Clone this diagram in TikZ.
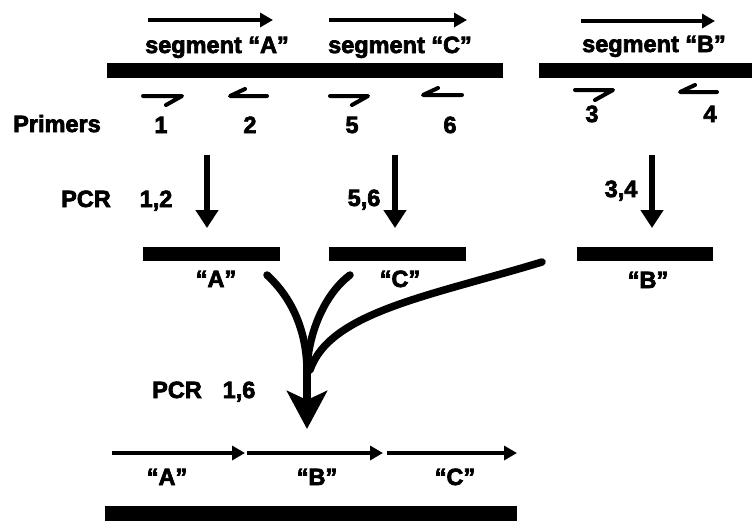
\documentclass[tikz,border=0pt]{standalone}
\usepackage{fontspec}
\newfontfamily\heavyfont{Liberation Sans Bold}[FakeBold=3]
\usetikzlibrary{arrows.meta}

\tikzset{
  bar/.style={rectangle, fill=black, inner sep=0pt, minimum height=15pt},
  lab/.style={font=\heavyfont\fontsize{23.5}{27}\selectfont, inner sep=0pt, anchor=base},
  strand/.style={line width=4.2pt, -{Triangle[length=13pt,width=14pt]}},
  primer/.style={line width=4pt, line cap=round, line join=round},
  pcrarrow/.style={line width=6.5pt, -{Triangle[length=18pt,width=22pt]}},
  merge/.style={line width=7.5pt}
}

\begin{document}
\begin{tikzpicture}[x=1pt,y=-1pt]
\useasboundingbox (0,0) rectangle (752,520);

% Template strands
\node[bar, minimum width=396pt] (tmplAC) at (305,70.5) {};
\node[bar, minimum width=213pt] (tmplB) at (645.5,70.5) {};

% Segment arrows and names
\draw[strand] (148,20) -- (273,20);
\draw[strand] (329,20) -- (467,20);
\draw[strand] (581,21) -- (715,21);
\node[lab] (segA) at (217,53) {segment “A”};
\node[lab] (segC) at (400,53) {segment “C”};
\node[lab] (segB) at (654,52) {segment “B”};

% Primers (half arrows)
\draw[primer] (143,96) -- ++(39,0) -- ++(-16,9);
\draw[primer] (267,96) -- ++(-37,0) -- ++(15,-7);
\draw[primer] (330,96) -- ++(38,0) -- ++(-16,9);
\draw[primer] (462,95) -- ++(-39,0) -- ++(15,-7);
\draw[primer] (575,90) -- ++(38,0) -- ++(-18,10);
\draw[primer] (717,92) -- ++(-37,0) -- ++(15,-7);
\node[lab] (primers) at (57,132) {Primers};
\node[lab] (p1) at (161,133) {1};
\node[lab] (p2) at (250,133) {2};
\node[lab] (p5) at (352,133) {5};
\node[lab] (p6) at (450,133) {6};
\node[lab] (p3) at (592,122) {3};
\node[lab] (p4) at (710,122) {4};

% First PCR
\coordinate (startA) at (207,155);
\coordinate (startC) at (395,155);
\coordinate (startB) at (652,155);
\coordinate (endA) at (207,228);
\coordinate (endC) at (395,228);
\coordinate (endB) at (652,228);
\draw[pcrarrow] (startA) -- (endA);
\draw[pcrarrow] (startC) -- (endC);
\draw[pcrarrow] (startB) -- (endB);
\node[lab] (pcr) at (86,207) {PCR};
\node[lab] (pr12) at (156,207) {1,2};
\node[lab] (pr56) at (364,206) {5,6};
\node[lab] (pr34) at (621,197) {3,4};

% Products
\node[bar, minimum width=137pt, minimum height=14pt] (prodA) at (211.5,254) {};
\node[bar, minimum width=137pt, minimum height=14pt] (prodC) at (397.5,254) {};
\node[bar, minimum width=136pt, minimum height=14pt] (prodB) at (645,254) {};
\node[lab] (nameA) at (216,287) {“A”};
\node[lab] (nameC) at (400,287) {“C”};
\node[lab] (nameB) at (648,288) {“B”};

% Joining the three products
\coordinate (fromA) at (267,275);
\coordinate (fromC) at (350,275);
\coordinate (fromB) at (542,262);
\coordinate (join) at (307,368);
\coordinate (tip) at (307,429);
\draw[merge, line cap=round] (fromA) .. controls (292,298) and (306,330) .. (join);
\draw[merge, line cap=round] (fromC) .. controls (326,293) and (309,330) .. (join);
\draw[merge, line cap=round] (fromB) .. controls (430,296) and (330,312) .. (310,370);
\draw[merge, -{Stealth[length=38pt,width=40pt,inset=9pt]}] (join) -- (tip);
\node[lab] (pcr2) at (177,398) {PCR};
\node[lab] (pr16) at (239,398) {1,6};

% Fused product
\draw[strand] (112,453) -- (245,453);
\draw[strand] (247,453) -- (383,453);
\draw[strand] (387,453) -- (517,453);
\node[lab] (fusA) at (167,485) {“A”};
\node[lab] (fusB) at (317,485) {“B”};
\node[lab] (fusC) at (455,485) {“C”};
\node[bar, minimum width=412pt] (fused) at (311,513.5) {};

\end{tikzpicture}
\end{document}
